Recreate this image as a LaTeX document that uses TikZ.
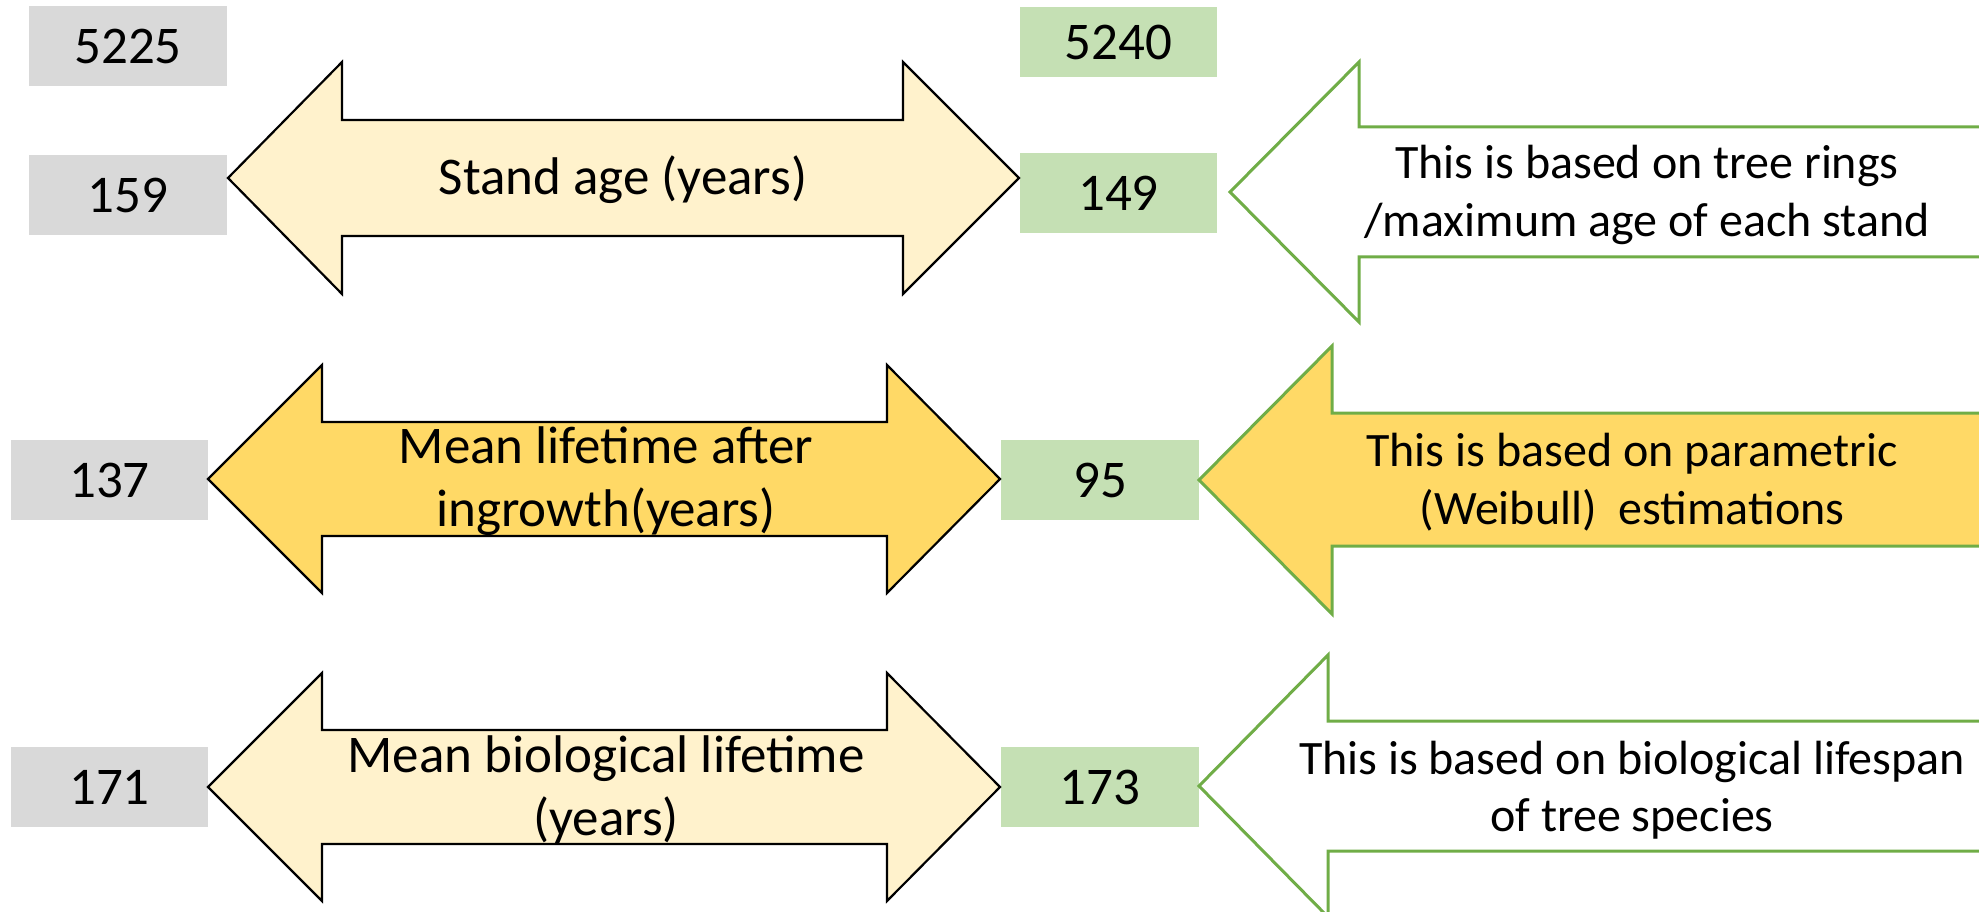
\documentclass[tikz,border=0pt]{standalone}
\usepackage{fontspec}
\setmainfont{Carlito}
\definecolor{boxgrey}{HTML}{D9D9D9}
\definecolor{boxgreen}{HTML}{C5E0B4}
\definecolor{lightyel}{HTML}{FFF2CC}
\definecolor{gold}{HTML}{FFD966}
\definecolor{outgreen}{HTML}{70AD47}
\begin{document}
\begin{tikzpicture}[x=1pt,y=-1pt,
  numbox/.style={inner sep=0pt,minimum width=198pt,minimum height=80pt,
    font=\fontsize{53}{63.6}\selectfont},
  greybox/.style={numbox,fill=boxgrey},
  greenbox/.style={numbox,fill=boxgreen},
  dblarrow/.style={draw=black,line width=2.2pt,line join=miter},
  sglarrow/.style={draw=outgreen,line width=3pt,line join=miter},
  lefttext/.style={align=center,inner sep=0pt,font=\fontsize{53}{63.6}\selectfont},
  righttext/.style={align=center,inner sep=0pt,font=\fontsize{48}{57.6}\selectfont}]
\useasboundingbox (0,0) rectangle (1979,912);
\clip (0,0) rectangle (1979,912);
% number boxes
\node[greybox] (n5225) at (128,46) {5225};
\node[greybox] (n159) at (128,195) {159};
\node[greenbox,minimum width=197pt,minimum height=70pt] (n5240) at (1118.5,42) {5240};
\node[greenbox,minimum width=197pt] (n149) at (1118.5,193) {149};
\node[greybox,minimum width=197pt] (n137) at (109.5,480) {137};
\node[greenbox] (n95) at (1100,480) {95};
\node[greybox,minimum width=197pt] (n171) at (109.5,787) {171};
\node[greenbox] (n173) at (1100,787) {173};
% double arrows
\draw[dblarrow,fill=lightyel] (228,178) -- (342,62) -- (342,120) -- (903,120) -- (903,62) -- (1019,178) -- (903,294) -- (903,236) -- (342,236) -- (342,294) -- cycle;
\draw[dblarrow,fill=gold] (208,479) -- (322,365) -- (322,422) -- (887,422) -- (887,365) -- (1000,479) -- (887,593) -- (887,536) -- (322,536) -- (322,593) -- cycle;
\draw[dblarrow,fill=lightyel] (208,787) -- (322,673) -- (322,730) -- (887,730) -- (887,673) -- (1000,787) -- (887,901) -- (887,844) -- (322,844) -- (322,901) -- cycle;
% single arrows
\draw[sglarrow,fill=white] (1230,192) -- (1359,62) -- (1359,127) -- (2100,127) -- (2100,257) -- (1359,257) -- (1359,322) -- cycle;
\draw[sglarrow,fill=gold] (1199,480) -- (1332,346) -- (1332,413) -- (2100,413) -- (2100,546) -- (1332,546) -- (1332,614) -- cycle;
\draw[sglarrow,fill=white] (1199,786) -- (1328,655) -- (1328,721) -- (2100,721) -- (2100,851) -- (1328,851) -- (1328,917) -- cycle;
% texts
\node[lefttext] (t1) at (623,180) {Stand age (years)};
\node[lefttext] (t2) at (606,481) {Mean lifetime after\\ingrowth(years)};
\node[lefttext] (t3) at (606,790) {Mean biological lifetime\\(years)};
\node[righttext] (r1) at (1647,195) {This is based on tree rings\\/maximum age of each stand};
\node[righttext] (r2) at (1632,482) {This is based on parametric\\(Weibull)\ \ estimations};
\node[righttext] (r3) at (1632,790) {This is based on biological lifespan\\of tree species};
\end{tikzpicture}
\end{document}
